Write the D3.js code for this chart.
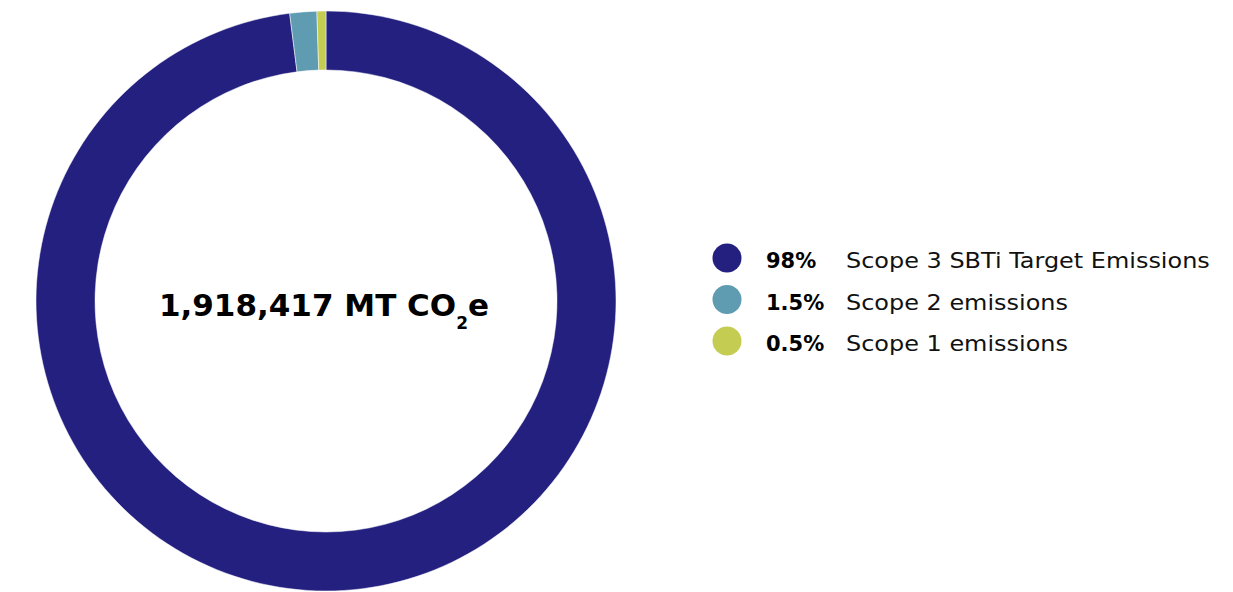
<html>
  <head>
    <script src="https://d3js.org/d3.v7.min.js"></script>
    <style>
      body { margin: 0; background: #fff; }
      text { font-family: "DejaVu Sans", sans-serif; }
    </style>
  </head>
  <body>
    <div id="vis"></div>
  </body>
  <script>
    // data
    var labels = ["Scope 3 SBTi Target Emissions", "Scope 2 emissions", "Scope 1 emissions"]
    var percents = [98, 1.5, 0.5]
    var pctLabels = ["98%", "1.5%", "0.5%"]
    var colors = ["#23207f", "#5f9cb2", "#c5cc52"]
    var totalValue = "1,918,417"

    var width = 1233
    var height = 592
    var cx = 326, cy = 301
    var outerR = 290, innerR = 231

    var svg = d3.select("#vis")
      .append("svg")
      .attr("width", width)
      .attr("height", height)

    var pie = d3.pie().sort(null).value(function(d) { return d })
    var arc = d3.arc().innerRadius(innerR).outerRadius(outerR)

    var g = svg.append("g")
      .attr("transform", "translate(" + cx + "," + cy + ")")

    g.selectAll("path")
      .data(pie(percents))
      .enter()
      .append("path")
      .attr("d", arc)
      .attr("fill", function(d, i) { return colors[i] })
      .attr("stroke", "#fff")
      .attr("stroke-width", 0.5)

    // center total
    var total = g.append("text")
      .attr("text-anchor", "middle")
      .attr("x", -2)
      .attr("y", 15)
      .style("font-size", "31px")
      .style("font-weight", "bold")
      .style("fill", "#000")
    total.append("tspan").text(totalValue + " MT CO")
    total.append("tspan").attr("dy", 13).style("font-size", "17px").text("2")
    total.append("tspan").attr("dy", -13).text("e")

    // legend
    var legend = svg.append("g")
      .attr("transform", "translate(727,258)")

    var rows = legend.selectAll("g")
      .data(labels)
      .enter()
      .append("g")
      .attr("transform", function(d, i) { return "translate(0," + (i * 41.5) + ")" })

    rows.append("circle")
      .attr("r", 14.5)
      .attr("fill", function(d, i) { return colors[i] })

    rows.append("text")
      .attr("x", 39)
      .attr("y", 10)
      .style("font-size", "21px")
      .style("font-weight", "bold")
      .text(function(d, i) { return pctLabels[i] })

    // the original face is wider than DejaVu, stretch a bit
    rows.append("text")
      .attr("x", 119)
      .attr("y", 10)
      .style("font-size", "21px")
      .style("fill", "#111")
      .attr("lengthAdjust", "spacingAndGlyphs")
      .text(function(d) { return d })
      .attr("textLength", function() { return this.getComputedTextLength() * 1.14 })
  </script>
</html>
